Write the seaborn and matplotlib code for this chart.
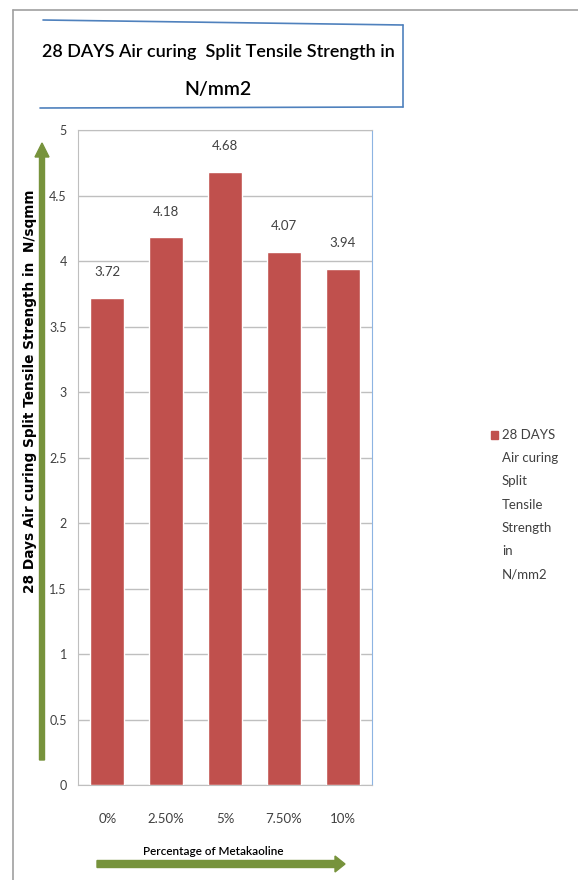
import matplotlib
matplotlib.use("Agg")
import matplotlib.pyplot as plt
from matplotlib.patches import Rectangle, FancyArrow
from matplotlib.lines import Line2D
import seaborn as sns
import pandas as pd

categories = ["0%", "2.50%", "5%", "7.50%", "10%"]
values = [3.72, 4.18, 4.68, 4.07, 3.94]
yticks = [0, 0.5, 1, 1.5, 2, 2.5, 3, 3.5, 4, 4.5, 5]
title_line1 = "28 DAYS Air curing  Split Tensile Strength in"
title_line2 = "N/mm2"
ylabel_text = "28 Days Air curing Split Tensile Strength in  N/sqmm"
xlabel_text = "Percentage of Metakaoline"
legend_text = "28 DAYS\nAir curing\nSplit\nTensile\nStrength\nin\nN/mm2"

sns.set_style("white")
plt.rcParams["font.family"] = ["Lato", "DejaVu Sans"]

df = pd.DataFrame({"pct": categories, "val": values})

W, H = 578, 880
fig = plt.figure(figsize=(5.78, 8.8), dpi=100)
L, R, T, B = 78, 372, 130, 785
ax = fig.add_axes([L / W, 1 - B / H, (R - L) / W, (B - T) / H])
sns.barplot(data=df, x="pct", y="val", color="#C0504D", width=0.58,
            saturation=1, ax=ax, zorder=3)
ax.set_ylim(0, 5)
ax.set_yticks(yticks)
ax.set_yticklabels([f"{t:g}" for t in yticks])
ax.yaxis.grid(True, color="#BFBFBF", linewidth=1, zorder=0)
ax.set_axisbelow(True)
for c in ax.containers:
    ax.bar_label(c, labels=[f"{v:.2f}" for v in values], padding=14,
                 fontsize=9.5, color="#404040")
ax.tick_params(axis="y", length=4, color="#BFBFBF", pad=4, labelsize=9,
               labelcolor="#404040")
ax.tick_params(axis="x", length=0, pad=20, labelsize=9.5, labelcolor="#404040")
ax.set_xlabel("")
ax.set_ylabel("")
for s in ["left", "bottom", "top"]:
    ax.spines[s].set_color("#BFBFBF")
    ax.spines[s].set_visible(True)
ax.spines["right"].set_visible(True)
ax.spines["right"].set_color("#8DB4E2")

tf = fig.transFigure
# outer border
fig.add_artist(Line2D([13 / W, 13 / W], [0, 1 - 10 / H], color="#A0A0A0", lw=1.2, transform=tf))
fig.add_artist(Line2D([13 / W, 1], [1 - 10 / H, 1 - 10 / H], color="#A0A0A0", lw=1.2, transform=tf))

# title box
bc = "#4F81BD"
fig.add_artist(Line2D([43 / W, 403 / W], [1 - 20 / H, 1 - 25 / H], color=bc, lw=1.2, transform=tf))
fig.add_artist(Line2D([403 / W, 403 / W], [1 - 25 / H, 1 - 107 / H], color=bc, lw=1.2, transform=tf))
fig.add_artist(Line2D([40 / W, 403 / W], [1 - 108 / H, 1 - 107 / H], color=bc, lw=1.2, transform=tf))
fig.text(218 / W, 1 - 52 / H, title_line1, ha="center", va="center",
         fontsize=13, fontweight="semibold", color="black")
fig.text(218 / W, 1 - 89 / H, title_line2, ha="center", va="center",
         fontsize=14, fontweight="semibold", color="black")

# axis titles
fig.text(30 / W, 1 - 391 / H, ylabel_text, rotation=90, ha="center", va="center",
         fontsize=9.8, fontweight="bold", family=["DejaVu Sans"], color="black")
fig.text(213 / W, 1 - 851 / H, xlabel_text, ha="center", va="center",
         fontsize=8.5, fontweight="semibold", color="black")

# green arrows
green = "#77933C"
fig.add_artist(FancyArrow(42 / W, 1 - 760 / H, 0, (760 - 143) / H, width=5 / W,
                          head_width=14 / W, head_length=14 / H, length_includes_head=True,
                          color=green, transform=tf))
fig.add_artist(FancyArrow(97 / W, 1 - 864 / H, (345 - 97) / W, 0, width=7 / H,
                          head_width=16 / H, head_length=10 / W, length_includes_head=True,
                          color=green, transform=tf))

# legend
fig.add_artist(Rectangle((491 / W, 1 - 439 / H), 7 / W, 8 / H, color="#C0504D", transform=tf))
fig.text(502 / W, 1 - 429 / H, legend_text, ha="left", va="top", fontsize=9.5,
         color="#404040", linespacing=2.12)

fig.savefig("out.png", dpi=100)
